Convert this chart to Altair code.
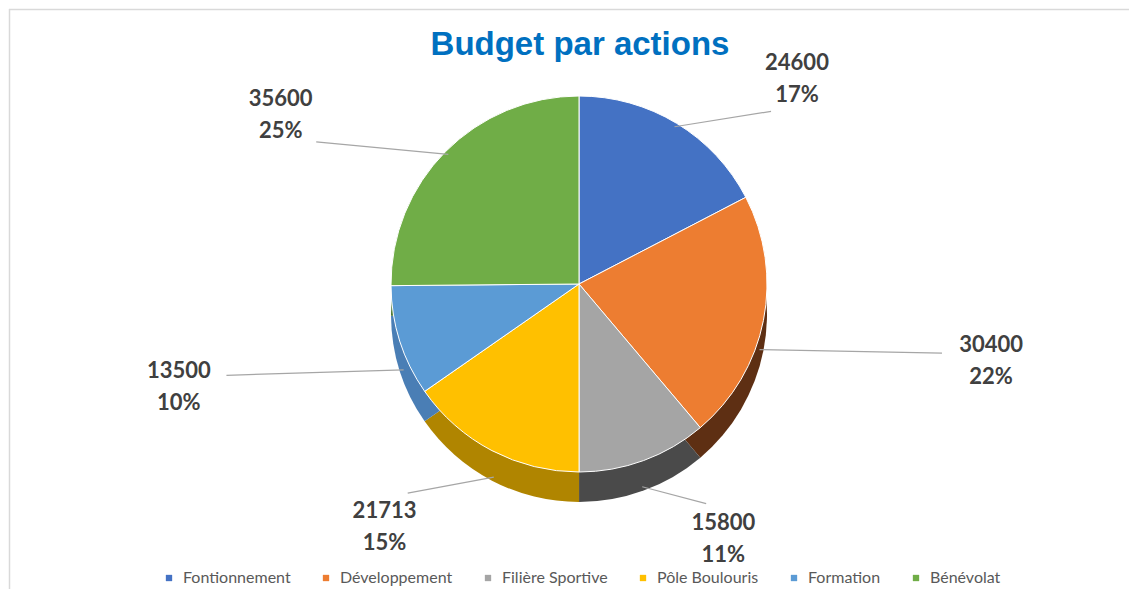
import altair as alt
import pandas as pd

# ---- data ----
title_text = "Budget par actions"
categories = ["Fontionnement", "Développement", "Filière Sportive",
              "Pôle Boulouris", "Formation", "Bénévolat"]
values = [24600, 30400, 15800, 21713, 13500, 35600]
pct_labels = ["17%", "22%", "11%", "15%", "10%", "25%"]

top_colors = ["#4472C4", "#ED7D31", "#A5A5A5", "#FFC000", "#5B9BD5", "#70AD47"]
side_colors = ["#2F528F", "#5E2F13", "#4A4A4A", "#B08500", "#4A7EB5", "#4E7A32"]

df = pd.DataFrame({"category": categories, "value": values,
                   "pct": pct_labels, "idx": list(range(len(categories)))})

# ---- layout (pixels inside the view) ----
W, H = 1120, 580
CX, CY, R, D = 570, 275, 188, 30
A, B = 420, 240          # label ellipse
A2, B2 = 370, 202        # leader-line end ellipse

base = alt.Chart(df)

side = base.mark_arc(outerRadius=R, strokeWidth=0).encode(
    theta=alt.Theta("value:Q", stack=True),
    order=alt.Order("idx:O"),
    color=alt.Color("category:N",
                    scale=alt.Scale(domain=categories, range=side_colors),
                    legend=None),
    x=alt.value(CX), y=alt.value(CY + D),
)

top = base.mark_arc(outerRadius=R, stroke="white", strokeWidth=1).encode(
    theta=alt.Theta("value:Q", stack=True),
    order=alt.Order("idx:O"),
    color=alt.Color("category:N",
                    scale=alt.Scale(domain=categories, range=top_colors),
                    sort=categories,
                    legend=alt.Legend(orient="none", legendX=152, legendY=561,
                                      direction="horizontal", columns=6,
                                      title=None, symbolType="square",
                                      symbolSize=40, symbolStrokeWidth=0,
                                      labelFont="Lato", labelFontSize=16,
                                      labelColor="#595959", labelOffset=6,
                                      columnPadding=27)),
    x=alt.value(CX), y=alt.value(CY),
)

geo = base.transform_joinaggregate(
    total="sum(value)"
).transform_window(
    cum="sum(value)", sort=[alt.SortField("idx")], frame=[None, 0]
).transform_calculate(
    mid="(datum.cum - datum.value / 2) / datum.total * 2 * PI",
).transform_calculate(
    dz=f"cos(datum.mid) < 0 ? {D} : 0",
).transform_calculate(
    lx=f"{CX} + {A} * sin(datum.mid)",
    ly=f"{CY} - {B} * cos(datum.mid) + datum.dz",
    sx=f"{CX} + {R - 4} * sin(datum.mid)",
    sy=f"{CY} - {R - 4} * cos(datum.mid) + datum.dz",
    ex=f"{CX} + {A2} * sin(datum.mid)",
    ey=f"{CY} - {B2} * cos(datum.mid) + datum.dz",
    txt="datum.value + '\\n' + datum.pct",
)

leaders = geo.mark_rule(color="#A6A6A6", strokeWidth=1.2).encode(
    x=alt.X("sx:Q", scale=None, axis=None),
    y=alt.Y("sy:Q", scale=None, axis=None),
    x2="ex:Q", y2="ey:Q",
)

labels = geo.mark_text(font="Lato", fontSize=22, fontWeight="bold",
                       color="#404040", lineBreak="\n", lineHeight=32,
                       align="center", baseline="middle", dy=-16).encode(
    x=alt.X("lx:Q", scale=None, axis=None),
    y=alt.Y("ly:Q", scale=None, axis=None),
    text="txt:N",
)

one = alt.Chart(pd.DataFrame({"t": [title_text]}))

title = one.mark_text(font="Liberation Sans", fontSize=33, fontWeight="bold",
                      color="#0070C0", align="center", baseline="middle").encode(
    text="t:N", x=alt.value(571), y=alt.value(36),
)

border_top = one.mark_rule(color="#D9D9D9", strokeWidth=1.5).encode(
    x=alt.value(0), x2=alt.value(W), y=alt.value(0.5))
border_left = one.mark_rule(color="#D9D9D9", strokeWidth=1.5).encode(
    y=alt.value(0), y2=alt.value(H), x=alt.value(0.5))

chart = alt.layer(
    border_top, border_left, side, top, leaders, labels, title
).resolve_scale(
    color="independent"
).properties(
    width=W, height=H, padding=0
).configure_view(stroke=None)

chart.save("out.html", embed_options={"renderer": "svg", "actions": False})
